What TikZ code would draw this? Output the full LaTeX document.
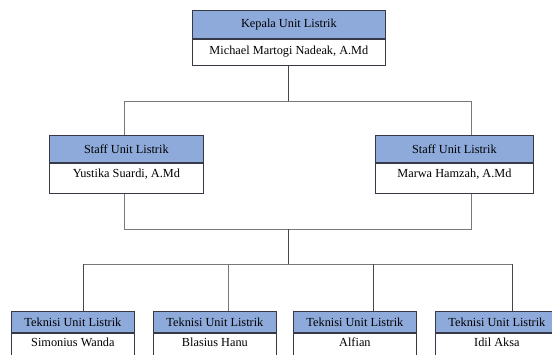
\documentclass[tikz,border=0pt]{standalone}
\usepackage{fontspec}
\setmainfont{Liberation Serif}
\usetikzlibrary{positioning}
\definecolor{headblue}{RGB}{142,170,219}
\definecolor{boxline}{RGB}{55,58,70}
\definecolor{linkgray}{RGB}{120,120,120}
\definecolor{trunkgray}{RGB}{70,70,70}

\begin{document}
\begin{tikzpicture}[x=1pt,y=-1pt,
  head/.style={draw=boxline, line width=0.8pt, fill=headblue, anchor=north west, inner sep=0pt, font=\fontsize{12.3}{14}\selectfont},
  body/.style={draw=boxline, line width=0.8pt, fill=white, anchor=north, inner sep=0pt, font=\fontsize{12.3}{14}\selectfont},
  link/.style={draw=linkgray, line width=0.9pt},
  trunk/.style={draw=trunkgray, line width=0.9pt}]
\useasboundingbox[fill=white] (0,0) rectangle (552,354);

\node[head, minimum width=193pt, minimum height=28pt] (kepalaH) at (192,10) {Kepala Unit Listrik};
\node[body, minimum width=193pt, text height=15pt, text depth=11pt] (kepala) at (kepalaH.south) {Michael Martogi Nadeak, A.Md};

\node[head, minimum width=154pt, minimum height=27pt] (staffaH) at (49,135) {Staff Unit Listrik};
\node[body, minimum width=154pt, text height=14pt, text depth=16pt] (staffa) at (staffaH.south) {Yustika Suardi, A.Md};
\node[head, minimum width=158pt, minimum height=27pt] (staffbH) at (375,135) {Staff Unit Listrik};
\node[body, minimum width=158pt, text height=14pt, text depth=16pt] (staffb) at (staffbH.south) {Marwa Hamzah, A.Md};

\node[head, minimum width=123pt, minimum height=21pt] (tekaH) at (11,311) {Teknisi Unit Listrik};
\node[body, minimum width=123pt, text height=13pt, text depth=17pt] (teka) at (tekaH.south) {Simonius Wanda};
\node[head, minimum width=123pt, minimum height=21pt] (tekbH) at (153,311) {Teknisi Unit Listrik};
\node[body, minimum width=123pt, text height=13pt, text depth=17pt] (tekb) at (tekbH.south) {Blasius Hanu};
\node[head, minimum width=123pt, minimum height=21pt] (tekcH) at (293,311) {Teknisi Unit Listrik};
\node[body, minimum width=123pt, text height=13pt, text depth=17pt] (tekc) at (tekcH.south) {Alfian};
\node[head, minimum width=123pt, minimum height=21pt] (tekdH) at (435,311) {Teknisi Unit Listrik};
\node[body, minimum width=123pt, text height=13pt, text depth=17pt] (tekd) at (tekdH.south) {Idil Aksa};

\coordinate (kepalaJ) at (288,101);
\coordinate (staffaJ) at (124,101);
\coordinate (staffbJ) at (471,101);
\coordinate (staffaK) at (124,229);
\coordinate (staffbK) at (471,229);
\coordinate (tengahK) at (288,229);
\coordinate (tengahJ) at (288,264);
\coordinate (tekaJ) at (83,264);
\coordinate (tekbJ) at (228,264);
\coordinate (tekcJ) at (373,264);
\coordinate (tekdJ) at (512,264);

\draw[trunk] (kepala.south -| kepalaJ) -- (kepalaJ);
\draw[link] (staffaJ) -- (staffbJ);
\draw[link] (staffaJ) -- (staffaJ |- staffaH.north);
\draw[link] (staffbJ) -- (staffbJ |- staffbH.north);
\draw[link] (staffa.south -| staffaK) -- (staffaK) -- (staffbK) -- (staffb.south -| staffbK);
\draw[trunk] (tengahK) -- (tengahJ);
\draw[link] (tekaJ) -- (tekdJ);
\draw[trunk] (tekaJ) -- (tekaJ |- tekaH.north);
\draw[link] (tekbJ) -- (tekbJ |- tekbH.north);
\draw[trunk] (tekcJ) -- (tekcJ |- tekcH.north);
\draw[trunk] (tekdJ) -- (tekdJ |- tekdH.north);
\end{tikzpicture}
\end{document}
